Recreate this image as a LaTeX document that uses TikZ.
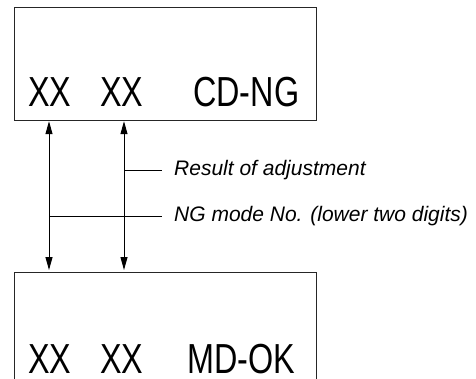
\documentclass[tikz,border=0pt]{standalone}
\usepackage{fontspec}
\setmainfont{Liberation Sans}
\newfontfamily\panelfont[FakeStretch=0.77]{Liberation Sans}
\usetikzlibrary{arrows.meta}

\begin{document}
\begin{tikzpicture}[x=1pt, y=1pt, >={Triangle[length=13pt,width=7pt]},
  panel/.style={draw=black!85, line width=1.2pt, anchor=north west, minimum width=302pt, inner sep=0pt},
  digits/.style={font=\panelfont\fontsize{42}{42}\selectfont, anchor=base west, inner sep=0pt},
  note/.style={font=\fontsize{21}{24}\selectfont\itshape, anchor=base west, inner sep=0pt}]
  \useasboundingbox (0,0) rectangle (476,-379);
  \clip (0,0) rectangle (476,-379);
  % display panels
  \node[panel, minimum height=113pt] (top) at (14,-7) {};
  \node[panel, minimum height=130pt] (bot) at (14,-272) {};
  \node[digits] (topa) at (28,-107) {XX};
  \node[digits] (topb) at (100,-107) {XX};
  \node[digits] (topc) at (193,-107) {CD-NG};
  \node[digits] (bota) at (28,-373) {XX};
  \node[digits] (botb) at (100,-373) {XX};
  \node[digits] (botc) at (187,-373) {MD-OK};
  % arrows between the panels
  \coordinate (ca) at (49,0);
  \coordinate (cb) at (124,0);
  \draw[<->, line width=1pt, shorten >=2pt] (ca |- top.south) -- (ca |- bot.north);
  \draw[<->, line width=1pt, shorten >=2pt] (cb |- top.south) -- (cb |- bot.north);
  % labels
  \node[note] (res) at (174,-176) {Result of adjustment};
  \node[note] (ng) at (174,-222) {NG mode No. (lower two digits)};
  \coordinate (jb) at (124,-171);
  \coordinate (ja) at (49,-217);
  \draw[line width=1pt, shorten >=12pt] (jb) -- (jb -| res.west);
  \draw[line width=1pt, shorten >=12pt] (ja) -- (ja -| ng.west);
\end{tikzpicture}
\end{document}
